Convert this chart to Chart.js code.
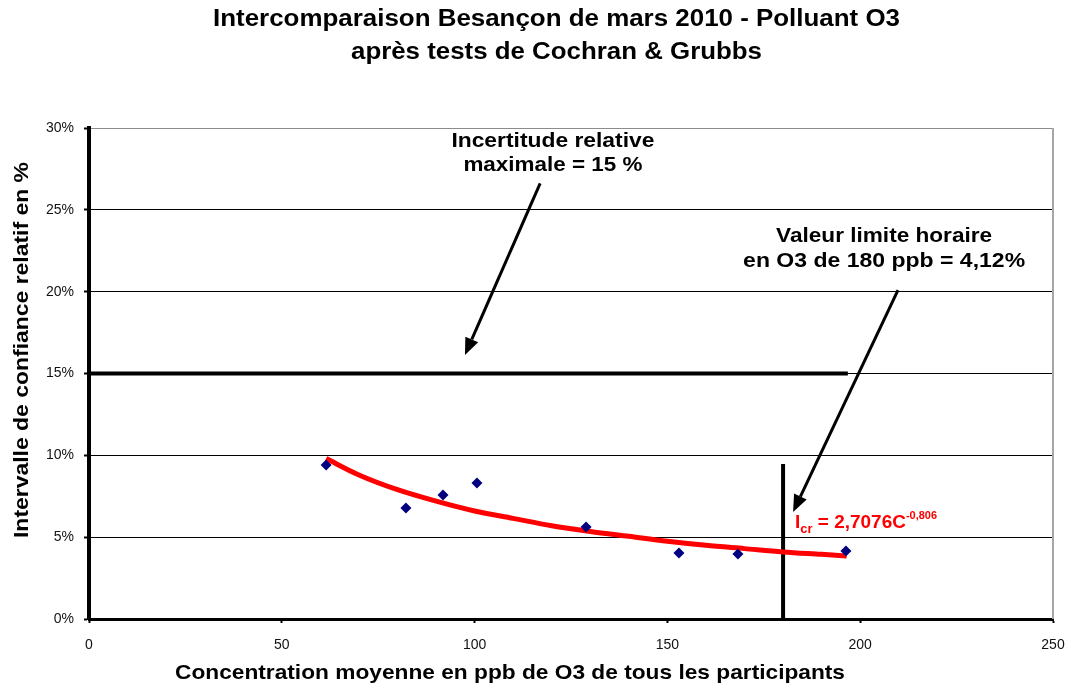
<!DOCTYPE html>
<html>
<head>
<meta charset="utf-8">
<script src="https://cdn.jsdelivr.net/npm/chart.js@4.4.1/dist/chart.umd.min.js"></script>
<style>
  html, body { margin: 0; padding: 0; background: #fff; }
  #wrap { width: 1070px; height: 689px; position: relative; }
</style>
</head>
<body>
<div id="wrap"><canvas id="c" width="1070" height="689"></canvas></div>
<script>
// ---- data ----
const concentrations = [61.5, 82.2, 91.8, 100.6, 128.9, 153.0, 168.3, 196.3];      // ppb
const intervals      = [9.41, 6.78, 7.57, 8.31, 5.62, 4.03, 3.97, 4.15];          // %
const trendX = [61.5, 70, 80, 90, 100, 110, 120, 130, 140, 150, 160, 170, 180, 190, 196.5];
const trendY = [9.8, 8.8, 7.9, 7.2, 6.6, 6.15, 5.7, 5.35, 5.05, 4.75, 4.5, 4.3, 4.1, 3.95, 3.85];
const limitX = [0, 196.8];       const limitY = [15, 15];
const hourlyX = [180, 180];      const hourlyY = [0, 9.47];
const xTicks = [0, 50, 100, 150, 200, 250];
const yTicks = [0, 5, 10, 15, 20, 25, 30];

const titleLines = ["Intercomparaison Besançon de mars 2010 - Polluant O3", "après tests de Cochran & Grubbs"];
const xTitle = "Concentration moyenne en ppb de O3 de tous les participants";
const yTitle = "Intervalle de confiance relatif en %";
const note1 = ["Incertitude relative", "maximale = 15 %"];
const note2 = ["Valeur limite horaire", "en O3 de 180 ppb = 4,12%"];

const toPts = (xs, ys) => xs.map((x, i) => ({x, y: ys[i]}));
const FONT = "'Liberation Sans', Arial, sans-serif";

function fitText(ctx, text, cx, cy, font, width, color, rot) {
  ctx.save();
  ctx.font = font;
  ctx.fillStyle = color;
  ctx.textAlign = 'center';
  ctx.textBaseline = 'middle';
  const w = ctx.measureText(text).width;
  ctx.translate(cx, cy);
  if (rot) ctx.rotate(rot);
  ctx.scale(width / w, 1);
  ctx.fillText(text, 0, 0);
  ctx.restore();
}

function arrow(ctx, x1, y1, x2, y2) {
  const ang = Math.atan2(y2 - y1, x2 - x1);
  const head = 17, hw = 7;
  const bx = x2 - head * Math.cos(ang), by = y2 - head * Math.sin(ang);
  ctx.save();
  ctx.strokeStyle = '#000'; ctx.fillStyle = '#000';
  ctx.lineWidth = 3;
  ctx.beginPath(); ctx.moveTo(x1, y1); ctx.lineTo(bx, by); ctx.stroke();
  ctx.beginPath();
  ctx.moveTo(x2, y2);
  ctx.lineTo(bx + hw * Math.sin(ang), by - hw * Math.cos(ang));
  ctx.lineTo(bx - hw * Math.sin(ang), by + hw * Math.cos(ang));
  ctx.closePath(); ctx.fill();
  ctx.restore();
}

const decor = {
  id: 'decor',
  beforeDatasetsDraw(chart) {
    const {ctx, chartArea: a} = chart;
    ctx.save();
    ctx.strokeStyle = '#a6a6a6'; ctx.lineWidth = 2;
    ctx.beginPath(); ctx.moveTo(a.right, a.top); ctx.lineTo(a.right, a.bottom); ctx.stroke();
    ctx.restore();
  },
  afterDraw(chart) {
    const {ctx} = chart;
    const xs = chart.scales.x, ys = chart.scales.y;
    const px = v => xs.getPixelForValue(v), py = v => ys.getPixelForValue(v);
    // titles
    fitText(ctx, titleLines[0], 556.5, 20, "bold 23px " + FONT, 687, '#000');
    fitText(ctx, titleLines[1], 556.5, 53, "bold 23px " + FONT, 411, '#000');
    fitText(ctx, xTitle, 510, 673, "bold 21px " + FONT, 670, '#000');
    fitText(ctx, yTitle, 22, 350, "bold 21px " + FONT, 376, '#000', -Math.PI / 2);
    // annotations
    fitText(ctx, note1[0], px(120.3), py(29.2), "bold 20px " + FONT, 203, '#000');
    fitText(ctx, note1[1], px(120.3), py(27.68), "bold 20px " + FONT, 179, '#000');
    fitText(ctx, note2[0], px(206.2), py(23.4), "bold 20px " + FONT, 216, '#000');
    fitText(ctx, note2[1], px(206.2), py(21.87), "bold 20px " + FONT, 282, '#000');
    arrow(ctx, px(117.0), py(26.62), px(97.5), py(16.13));
    arrow(ctx, px(209.8), py(20.1), px(182.6), py(6.54));
    // equation
    ctx.save();
    const x0 = px(183.1), base = py(5.56);
    ctx.translate(x0, base);
    ctx.fillStyle = '#ff0000';
    ctx.textBaseline = 'alphabetic';
    ctx.textAlign = 'left';
    const parts = [["I", 19, 0], ["cr", 13, 5], [" = 2,7076C", 19, 0], ["-0,806", 11, -9]];
    let total = 0;
    parts.forEach(p => { ctx.font = "bold " + p[1] + "px " + FONT; total += ctx.measureText(p[0]).width; });
    ctx.scale(142 / total, 1);
    let x = 0;
    parts.forEach(p => { ctx.font = "bold " + p[1] + "px " + FONT; ctx.fillText(p[0], x, p[2]); x += ctx.measureText(p[0]).width; });
    ctx.restore();
  }
};

new Chart(document.getElementById('c'), {
  type: 'scatter',
  data: {
    datasets: [
      { label: 'Intervalle', data: toPts(concentrations, intervals), pointStyle: 'rectRot',
        pointRadius: 5.5, backgroundColor: '#000080', borderColor: '#000080', borderWidth: 0, showLine: false },
      { label: 'Tendance', data: toPts(trendX, trendY), showLine: true, borderColor: '#ff0000',
        borderWidth: 5, pointRadius: 0, cubicInterpolationMode: 'monotone', fill: false },
      { label: 'Limite 15%', data: toPts(limitX, limitY), showLine: true, borderColor: '#000',
        borderWidth: 4, pointRadius: 0 },
      { label: '180 ppb', data: toPts(hourlyX, hourlyY), showLine: true, borderColor: '#000',
        borderWidth: 4, pointRadius: 0 }
    ]
  },
  options: {
    responsive: false,
    animation: false,
    layout: { padding: { top: 128, right: 17, left: 0, bottom: 0 } },
    plugins: { legend: { display: false }, tooltip: { enabled: false }, title: { display: false } },
    scales: {
      x: {
        type: 'linear', min: 0, max: 250,
        afterFit(s) { s.height = 70; s.paddingRight = 0; s.paddingLeft = 0; },
        afterBuildTicks(s) { s.ticks = xTicks.map(v => ({value: v})); },
        grid: { drawOnChartArea: false, drawTicks: true, tickLength: 4, tickColor: '#000', tickWidth: 2 },
        border: { color: '#000', width: 3 },
        ticks: { padding: 14, color: '#111', font: { family: FONT, size: 14 } }
      },
      y: {
        min: 0, max: 30,
        afterFit(s) { s.width = 89; s.paddingTop = 0; s.paddingBottom = 0; },
        afterBuildTicks(s) { s.ticks = yTicks.map(v => ({value: v})); },
        grid: { color: c => (c.tick && c.tick.value === 30) ? '#8c8c8c' : '#000', lineWidth: 1,
                tickLength: 5, tickColor: '#000', tickWidth: 2 },
        border: { color: '#000', width: 4 },
        ticks: { padding: 10, color: '#111', font: { family: FONT, size: 14 }, callback: v => v + '%' }
      }
    }
  },
  plugins: [decor]
});
</script>
</body>
</html>
